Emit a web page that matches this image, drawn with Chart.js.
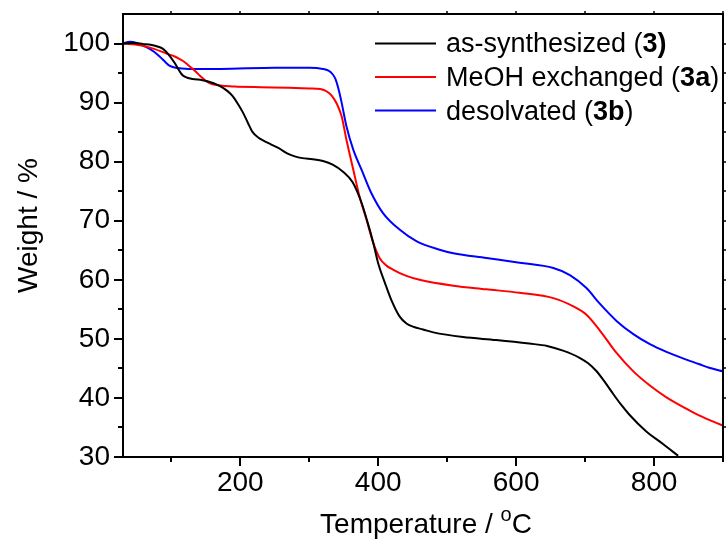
<!DOCTYPE html>
<html>
<head>
<meta charset="utf-8">
<script src="https://cdn.jsdelivr.net/npm/chart.js@4.4.1/dist/chart.umd.min.js"></script>
<style>
  html, body { margin: 0; padding: 0; background: #fff; }
  canvas { display: block; }
</style>
</head>
<body>
<canvas id="tga" width="726" height="542"></canvas>
<script>
// TGA curves: temperature (°C) and remaining weight (%)
const asSynthTemp = [30, 45, 60, 70, 80, 88, 95, 105, 110, 115, 121, 131, 145, 156, 167, 175, 182, 189, 196, 204, 211, 218, 226, 233, 245, 257, 268, 279, 290, 305, 320, 334, 349, 363, 376, 385, 393, 400, 410, 419, 431, 441, 452, 465, 480, 523, 571, 619, 645, 668, 692, 704, 716, 728, 740, 752, 764, 788, 813, 835];
const asSynthWeight = [100, 100.1, 99.9, 99.8, 99.5, 99.1, 98.3, 96.7, 95.7, 94.8, 94.3, 94.0, 93.8, 93.5, 93.0, 92.5, 91.9, 91.1, 89.9, 88.3, 86.6, 85.0, 84.1, 83.6, 82.9, 82.2, 81.4, 80.9, 80.6, 80.4, 80.1, 79.5, 78.3, 76.5, 73.0, 69.6, 66.2, 62.8, 59.4, 56.6, 53.8, 52.6, 52.0, 51.6, 51.1, 50.3, 49.8, 49.2, 48.8, 48.0, 46.8, 45.9, 44.6, 42.8, 40.8, 38.9, 37.2, 34.4, 32.2, 30.2];

const meohTemp = [30, 55, 75, 93, 105, 113, 120, 127, 135, 142, 151, 160, 171, 185, 195, 230, 270, 300, 316, 324, 330, 335, 340, 347, 354, 364, 373, 383, 393, 402, 412, 422, 440, 460, 509, 557, 605, 654, 683, 702, 721, 745, 770, 794, 818, 842, 866, 900];
const meohWeight = [100, 99.7, 99.1, 98.3, 97.8, 97.3, 96.8, 96.1, 95.3, 94.5, 93.6, 93.1, 92.9, 92.75, 92.7, 92.6, 92.5, 92.4, 92.3, 92.0, 91.5, 90.8, 89.8, 87.7, 83.7, 78.6, 74.1, 70.2, 66.2, 63.7, 62.4, 61.7, 60.7, 60.0, 59.0, 58.4, 57.8, 56.9, 55.5, 54.1, 51.5, 47.7, 44.5, 42.1, 40.1, 38.5, 37.0, 35.3];

const desolvTemp = [30, 40, 50, 64, 75, 84, 92, 98, 106, 113, 125, 171, 250, 300, 320, 328, 334, 338, 342, 347, 354, 364, 376, 390, 407, 431, 456, 489, 509, 557, 605, 654, 678, 702, 721, 746, 770, 794, 818, 842, 866, 880, 900];
const desolvWeight = [100, 100.3, 100.1, 99.4, 98.6, 97.7, 96.8, 96.2, 95.9, 95.8, 95.7, 95.7, 95.9, 95.9, 95.7, 95.4, 94.8, 94.0, 92.5, 90.0, 86.0, 82.0, 78.6, 74.7, 71.3, 68.5, 66.5, 65.1, 64.5, 63.7, 62.9, 62.0, 60.8, 58.6, 56.0, 53.0, 50.8, 49.1, 47.8, 46.7, 45.7, 45.1, 44.5];

// axis ticks
const xTickValues = [200, 400, 600, 800];
const xMinorTicks = [100, 300, 500, 700, 900];
const xTopTicks = [100, 200, 300, 400, 500, 600, 700, 800, 900];
const yTickValues = [30, 40, 50, 60, 70, 80, 90, 100];
const yMinorTicks = [35, 45, 55, 65, 75, 85, 95];
const yRightTicks = [35, 40, 45, 50, 55, 60, 65, 70, 75, 80, 85, 90, 95, 100];

const seriesNames = ['as-synthesized (', 'MeOH exchanged (', 'desolvated ('];
const seriesBold = ['3)', '3a', '3b'];
const seriesTail = ['', ')', ')'];
const seriesColors = ['#000000', '#ff0000', '#0000ff'];

const FONT = '"Liberation Sans", Arial, Helvetica, sans-serif';

function pairs(xs, ys) { return xs.map((x, i) => ({ x: x, y: ys[i] })); }

// frame box and outward tick marks on all four sides
const framePlugin = {
  id: 'frame',
  afterDatasetsDraw(chart) {
    const ctx = chart.ctx;
    const { left, right, top, bottom } = chart.chartArea;
    const xs = chart.scales.x, ys = chart.scales.y;
    ctx.save();
    ctx.strokeStyle = '#000';
    ctx.lineWidth = 2;
    ctx.strokeRect(left, top, right - left, bottom - top);
    ctx.beginPath();
    xTickValues.forEach(v => { const p = Math.round(xs.getPixelForValue(v)); ctx.moveTo(p, bottom); ctx.lineTo(p, bottom + 9); });
    xMinorTicks.forEach(v => { const p = Math.round(xs.getPixelForValue(v)); ctx.moveTo(p, bottom); ctx.lineTo(p, bottom + 5); });
    yTickValues.forEach(v => { const p = Math.round(ys.getPixelForValue(v)); ctx.moveTo(left, p); ctx.lineTo(left - 9, p); });
    yMinorTicks.forEach(v => { const p = Math.round(ys.getPixelForValue(v)); ctx.moveTo(left, p); ctx.lineTo(left - 5, p); });
    ctx.stroke();
    ctx.lineWidth = 1.5;
    ctx.beginPath();
    xTopTicks.forEach(v => { const p = Math.round(xs.getPixelForValue(v)); ctx.moveTo(p, top); ctx.lineTo(p, top - 3); });
    yRightTicks.forEach(v => { const p = Math.round(ys.getPixelForValue(v)); ctx.moveTo(right, p); ctx.lineTo(right + 4, p); });
    ctx.stroke();
    ctx.restore();
  }
};

// legend with bold compound labels
const legendPlugin = {
  id: 'tgaLegend',
  afterDatasetsDraw(chart) {
    const ctx = chart.ctx;
    const lineX0 = 375, lineX1 = 436, textX = 446;
    const lineY = [43.5, 77, 110.5];
    const baseY = [52, 86, 119.5];
    ctx.save();
    ctx.textBaseline = 'alphabetic';
    ctx.textAlign = 'left';
    ctx.fillStyle = '#000';
    for (let i = 0; i < 3; i++) {
      ctx.strokeStyle = seriesColors[i];
      ctx.lineWidth = 2;
      ctx.beginPath();
      ctx.moveTo(lineX0, lineY[i]);
      ctx.lineTo(lineX1, lineY[i]);
      ctx.stroke();
      let x = textX;
      ctx.font = '27px ' + FONT;
      ctx.fillText(seriesNames[i], x, baseY[i]);
      x += ctx.measureText(seriesNames[i]).width;
      ctx.font = 'bold 27px ' + FONT;
      ctx.fillText(seriesBold[i], x, baseY[i]);
      x += ctx.measureText(seriesBold[i]).width;
      ctx.font = '27px ' + FONT;
      ctx.fillText(seriesTail[i], x, baseY[i]);
    }
    ctx.restore();
  }
};

// axis titles (x title uses a raised "o" for degrees)
const titlePlugin = {
  id: 'axisTitles',
  afterDraw(chart) {
    const ctx = chart.ctx;
    const { left, right, top, bottom } = chart.chartArea;
    ctx.save();
    ctx.fillStyle = '#000';
    ctx.textBaseline = 'alphabetic';
    ctx.textAlign = 'left';
    const main = '28px ' + FONT, sup = '20px ' + FONT;
    const partA = 'Temperature / ', partB = 'o', partC = 'C';
    ctx.font = main; const wA = ctx.measureText(partA).width; const wC = ctx.measureText(partC).width;
    ctx.font = sup; const wB = ctx.measureText(partB).width;
    const total = wA + wB + wC;
    let x = (left + right) / 2 + 3 - total / 2;
    const base = 533;
    ctx.font = main; ctx.fillText(partA, x, base); x += wA;
    ctx.font = sup; ctx.fillText(partB, x, base - 12); x += wB;
    ctx.font = main; ctx.fillText(partC, x, base);

    ctx.translate(37, (top + bottom) / 2 - 10);
    ctx.rotate(-Math.PI / 2);
    ctx.textAlign = 'center';
    ctx.font = main;
    ctx.fillText('Weight / %', 0, 0);
    ctx.restore();
  }
};

const lineDefaults = { borderWidth: 2, pointRadius: 0, fill: false, cubicInterpolationMode: 'monotone' };

new Chart(document.getElementById('tga'), {
  type: 'line',
  data: {
    datasets: [
      Object.assign({ label: 'as-synthesized (3)', data: pairs(asSynthTemp, asSynthWeight), borderColor: seriesColors[0] }, lineDefaults),
      Object.assign({ label: 'MeOH exchanged (3a)', data: pairs(meohTemp, meohWeight), borderColor: seriesColors[1] }, lineDefaults),
      Object.assign({ label: 'desolvated (3b)', data: pairs(desolvTemp, desolvWeight), borderColor: seriesColors[2] }, lineDefaults)
    ]
  },
  options: {
    responsive: false,
    animation: false,
    events: [],
    layout: { padding: { top: 14, right: 3, left: 0, bottom: 0 } },
    plugins: { legend: { display: false }, tooltip: { enabled: false } },
    scales: {
      x: {
        type: 'linear', min: 30, max: 900,
        afterBuildTicks: s => { s.ticks = xTickValues.map(v => ({ value: v })); },
        afterFit: s => { s.height = 85; s.paddingLeft = 0; s.paddingRight = 0; },
        grid: { display: false, drawTicks: false, tickLength: 0 },
        border: { display: false },
        ticks: { color: '#000', font: { family: FONT, size: 28 }, padding: 9, maxRotation: 0, autoSkip: false }
      },
      y: {
        type: 'linear', min: 30, max: 105,
        afterBuildTicks: s => { s.ticks = yTickValues.map(v => ({ value: v })); },
        afterFit: s => { s.width = 123; s.paddingTop = 0; s.paddingBottom = 0; },
        grid: { display: false, drawTicks: false, tickLength: 0 },
        border: { display: false },
        ticks: { color: '#000', font: { family: FONT, size: 28 }, padding: 13, autoSkip: false }
      }
    }
  },
  plugins: [framePlugin, legendPlugin, titlePlugin]
});
</script>
</body>
</html>
